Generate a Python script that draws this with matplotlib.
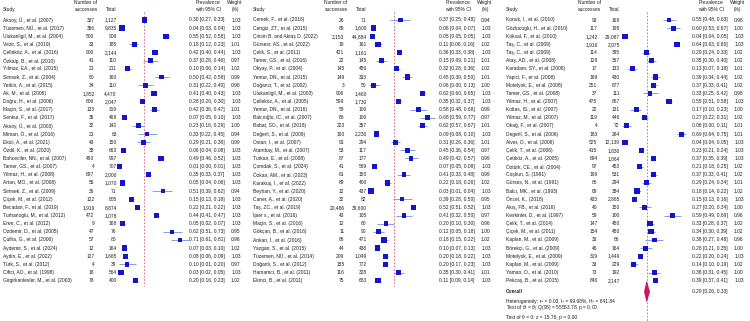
import numpy as np
import matplotlib
matplotlib.use("Agg")
import matplotlib.pyplot as plt

plt.rcParams['font.family'] = ['Liberation Sans', 'DejaVu Sans']
plt.rcParams['mathtext.fontset'] = 'custom'
plt.rcParams['mathtext.rm'] = 'Liberation Sans'
plt.rcParams['mathtext.it'] = 'Liberation Sans:italic'

# ---------------- data ----------------
names1 = ["Aksoy, Ü., et al. (2007)", "Tüzemen, NÜ., et al. (2017)", "Ulukanligil, M., et al. (2004)",
          "Vezir, S., et al. (2019)", "Çelleköz, A., et al. (2016)", "Özkalp, B., et al. (2010)",
          "Yılmaz, EA., et al. (2015)", "Simsek, Z., et al. (2004)", "Yetkin, A., et al. (2015)",
          "Ak, M., et al. (2006)", "Doğru, H., et al. (2006)", "Maçin, S., et al. (2017)",
          "Senkur, F., et al. (2017)", "Aksoy, Ü., et al. (2003)", "Miman, Ö., et al. (2016)",
          "Ekici, A., et al. (2021)", "Özdil, K., et al. (2020)", "Bahceciler, NN., et al. (2007)",
          "Tamer, GS., et al. (2007)", "Yilmaz, H., et al. (2008)", "Artan, MO., et al. (2008)",
          "Simsek, Z., et al. (2009)", "Çiçek, M., et al. (2012)", "Becadan, F., et al. (2019)",
          "Turhanoglu, M., et al. (2012)", "Eren, C., et al. (2012)", "Ozdemir, D., et al. (2005)",
          "Çulha, G., et al. (2006)", "Aydemir, S., et al. (2024)", "Aydin, E., et al. (2022)",
          "Türk, S., et al. (2012)", "Ciftci, AO., et al. (1998)", "Girgirkanlesler, M., et al. (2003)"]
succ1 = [337, 356, 500, 33, 900, 41, 21, 80, 34, 1852, 606, 133, 35, 32, 21, 43, 38, 490, 4, 697, 55,
         36, 122, 1919, 472, 9, 47, 57, 12, 127, 4, 18, 78]
tot1 = [1127, 9835, 909, 185, 2144, 110, 211, 160, 110, 4470, 2047, 319, 468, 142, 63, 150, 663, 997,
        707, 2000, 1070, 71, 805, 8874, 1078, 168, 76, 80, 164, 1665, 39, 564, 400]
est1 = [0.30, 0.04, 0.55, 0.18, 0.42, 0.37, 0.10, 0.50, 0.31, 0.41, 0.28, 0.42, 0.07, 0.23, 0.33, 0.29,
        0.06, 0.49, 0.01, 0.35, 0.05, 0.51, 0.15, 0.22, 0.44, 0.05, 0.62, 0.71, 0.07, 0.08, 0.10, 0.03, 0.20]
lo1 = [0.27, 0.03, 0.52, 0.12, 0.40, 0.28, 0.06, 0.42, 0.22, 0.40, 0.26, 0.36, 0.05, 0.16, 0.22, 0.21,
       0.04, 0.46, 0.00, 0.33, 0.04, 0.39, 0.13, 0.21, 0.41, 0.02, 0.51, 0.61, 0.03, 0.06, 0.01, 0.02, 0.16]
hi1 = [0.33, 0.04, 0.58, 0.23, 0.44, 0.46, 0.14, 0.58, 0.40, 0.43, 0.30, 0.47, 0.10, 0.29, 0.45, 0.36,
       0.08, 0.52, 0.01, 0.37, 0.06, 0.62, 0.18, 0.22, 0.47, 0.07, 0.73, 0.81, 0.10, 0.09, 0.20, 0.05, 0.23]
w1 = [1.03, 1.03, 1.03, 1.01, 1.03, 0.97, 1.02, 0.99, 0.98, 1.03, 1.03, 1.01, 1.03, 1.00, 0.94, 0.99,
      1.03, 1.03, 1.03, 1.03, 1.03, 0.94, 1.03, 1.03, 1.03, 1.03, 0.95, 0.96, 1.02, 1.03, 0.97, 1.03, 1.02]

names2 = ["Cemek, F., et al. (2016)", "Cengiz, ZT., et al. (2015)", "Çirisin B. and Aktaş D. (2022)",
          "Gürsesr, AS., et al. (2022)", "Çelik, S., et al. (2011)", "Tamer, GS., et al. (2016)",
          "Okyay, P., et al. (2004)", "Yentur, DN., et al. (2015)", "Doğanci, T., et al. (2002)",
          "Ulukanligil, M., et al. (2003)", "Çelleköz, A., et al. (2005)", "Yentur, DN., et al. (2016)",
          "Balcıoğlu, IC., et al. (2007)", "Babat, SO., et al. (2018)", "Değerli, S., et al. (2009)",
          "Ostan, I., et al. (2007)", "Atambay, M., et al. (2007)", "Turkan, E., et al. (2008)",
          "Çomdak, S., et al. (2024)", "Özkan, AM., et al. (2023)", "Karakuş, İ., et al. (2022)",
          "Beyhan, Y., et al. (2020)", "Caner, A., et al. (2020)", "Taş, ZC., et al. (2019)",
          "İpier s., et al. (2016)", "Maçin, S., et al. (2016)", "Gökçan, B., et al. (2016)",
          "Ankan, İ., et al. (2016)", "Yazgan, S., et al. (2015)", "Tüzemen, NÜ., et al. (2014)",
          "Doğanlı, S., et al. (2012)", "Hamamcı, B., et al. (2011)", "Ekinci, B., et al. (2011)"]
succ2 = [26, 89, 2153, 18, 421, 22, 145, 149, 3, 906, 599, 58, 68, 223, 190, 91, 53, 87, 41, 61, 89, 12,
         32, 20486, 43, 12, 11, 86, 44, 209, 155, 116, 75]
tot2 = [71, 1600, 44884, 161, 1161, 145, 456, 333, 50, 1460, 1730, 100, 100, 357, 2230, 294, 117, 177,
        569, 150, 400, 437, 82, 39600, 105, 60, 90, 471, 438, 1049, 772, 328, 683]
est2 = [0.37, 0.06, 0.05, 0.11, 0.36, 0.15, 0.32, 0.45, 0.06, 0.62, 0.35, 0.58, 0.68, 0.62, 0.09, 0.31,
        0.45, 0.49, 0.07, 0.41, 0.22, 0.03, 0.39, 0.52, 0.41, 0.20, 0.12, 0.18, 0.10, 0.20, 0.20, 0.35, 0.11]
lo2 = [0.25, 0.04, 0.05, 0.06, 0.33, 0.09, 0.28, 0.39, 0.00, 0.60, 0.32, 0.48, 0.59, 0.57, 0.08, 0.26,
       0.36, 0.42, 0.05, 0.33, 0.18, 0.01, 0.28, 0.51, 0.32, 0.10, 0.05, 0.15, 0.07, 0.18, 0.17, 0.30, 0.09]
hi2 = [0.48, 0.07, 0.05, 0.16, 0.38, 0.21, 0.36, 0.50, 0.13, 0.65, 0.37, 0.68, 0.77, 0.67, 0.10, 0.36,
       0.54, 0.57, 0.09, 0.48, 0.26, 0.04, 0.50, 0.52, 0.50, 0.30, 0.18, 0.22, 0.13, 0.22, 0.23, 0.41, 0.14]
w2 = [0.94, 1.03, 1.03, 1.02, 1.03, 1.01, 1.02, 1.01, 1.00, 1.03, 1.03, 0.99, 0.97, 1.01, 1.03, 1.01,
      0.97, 0.99, 1.03, 0.99, 1.02, 1.03, 0.95, 1.03, 0.97, 0.96, 1.00, 1.02, 1.03, 1.03, 1.03, 1.01, 1.03]

names3 = ["Konuk, I., et al. (2010)", "Gözlucoglu, H., et al. (2010)", "Köksal, F., et al. (2010)",
          "Taş, C., et al. (2009)", "Taş, C., et al. (2009)", "Ataş, AD., et al. (2008)",
          "Karadam, SY., et al. (2008)", "Yapici, F., et al. (2008)", "Motelyok, E., et al. (2008)",
          "Tamer, GS., et al. (2008)", "Yilmaz, H., et al. (2007)", "Koltas, IS., et al. (2007)",
          "Yilmaz, M., et al. (2007)", "Okağ, F., et al. (2007)", "Degerli, S., et al. (2006)",
          "Alver, O., et al. (2006)", "Çelik, T., et al. (2006)", "Çetiköz, A., et al. (2005)",
          "Öztürk, CE., et al. (2004)", "Coşkun, S. (1991)", "Gürses, N., et al. (1991)",
          "Balcı, MK., et al. (1993)", "Öncel, K., (2018)", "Akış, FB., et al. (2016)",
          "Keskinler, D., et al. (1997)", "Çelik, T., et al. (2014)", "Çiçek, M., et al. (2011)",
          "Kaplan, M., et al. (2009)", "Börekçi, G., et al. (2009)", "Motelyok, E., et al. (2009)",
          "Kaplan, M., et al. (2009)", "Yaman, O., et al. (2010)", "Pekcaş, B., et al. (2015)"]
succ3 = [93, 117, 1242, 1916, 114, 128, 17, 169, 251, 37, 475, 22, 119, 4, 183, 525, 415, 694, 97, 196,
         86, 69, 433, 40, 59, 147, 154, 33, 46, 319, 33, 73, 846]
tot3 = [168, 195, 29087, 2975, 395, 367, 133, 430, 677, 111, 867, 131, 446, 72, 264, 12139, 1830, 1864,
        453, 531, 294, 384, 2865, 150, 100, 450, 450, 86, 164, 1449, 229, 192, 2147]
est3 = [0.55, 0.60, 0.04, 0.64, 0.29, 0.35, 0.13, 0.39, 0.37, 0.33, 0.55, 0.17, 0.27, 0.06, 0.69, 0.04,
        0.23, 0.37, 0.21, 0.37, 0.29, 0.18, 0.15, 0.27, 0.59, 0.33, 0.34, 0.38, 0.28, 0.22, 0.14, 0.38, 0.39]
lo3 = [0.48, 0.53, 0.04, 0.63, 0.24, 0.30, 0.07, 0.34, 0.33, 0.25, 0.51, 0.10, 0.22, 0.00, 0.64, 0.04,
       0.21, 0.35, 0.18, 0.33, 0.24, 0.14, 0.13, 0.20, 0.49, 0.28, 0.30, 0.27, 0.21, 0.20, 0.10, 0.31, 0.37]
hi3 = [0.63, 0.67, 0.05, 0.66, 0.33, 0.40, 0.18, 0.44, 0.41, 0.42, 0.58, 0.23, 0.31, 0.11, 0.75, 0.05,
       0.24, 0.39, 0.25, 0.41, 0.34, 0.22, 0.16, 0.34, 0.69, 0.37, 0.39, 0.48, 0.35, 0.24, 0.19, 0.45, 0.41]
w3 = [0.98, 1.00, 1.03, 1.03, 1.02, 1.02, 1.01, 1.02, 1.02, 0.98, 1.03, 1.00, 1.02, 1.01, 1.01, 1.03,
      1.03, 1.03, 1.02, 1.02, 1.01, 1.02, 1.03, 1.00, 0.96, 1.02, 1.02, 0.96, 1.00, 1.03, 1.02, 1.00, 1.03]

overall_est, overall_lo, overall_hi = 0.29, 0.26, 0.33
het_lines = [r"Heterogeneity: τ² = 0.03, I² = 99.68%, H² = 841.84",
             r"Test of $\theta_i$ = $\theta_j$: Q(98) = 55563.78, p = 0.00",
             r"Test of θ = 0: z = 15.76, p = 0.00"]

# ---------------- layout ----------------
FS = 3.5
TXT = '#1e1e1e'
SQ = '#1414c8'
CI = '#6f8fe0'
OVC = '#c8195a'
REF = '#d85a78'

fig = plt.figure(figsize=(7.5, 3.21), dpi=100)
Y0, DY, HPX = 20.0, 8.146, 321.0
X0, SX = 118.5, 86.6


def row_of(py):
    return 1 + (py - Y0) / DY


def X(px):
    return (px - X0) / SX


panels = [(0, 250, names1, succ1, tot1, est1, lo1, hi1, w1),
          (250, 250, names2, succ2, tot2, est2, lo2, hi2, w2),
          (503, 247, names3, succ3, tot3, est3, lo3, hi3, w3)]

for pi, (off, W, nm, sc, tt, es, lo, hi, ww) in enumerate(panels):
    ax = fig.add_axes([off / 750, 0, W / 750, 1])
    ax.set_xlim(X(0), X(W))
    ax.set_ylim(row_of(HPX), row_of(0))
    ax.axis('off')
    n = len(nm)
    rows = np.arange(1, n + 1)

    # header
    kw = dict(fontsize=FS, color=TXT, clip_on=False)
    ax.text(X(2.7), row_of(9.3), "Study", ha='left', va='center', **kw)
    ax.text(X(86), row_of(2.7), "Number of", ha='center', va='center', **kw)
    ax.text(X(86), row_of(9.3), "successes", ha='center', va='center', **kw)
    ax.text(X(111), row_of(9.3), "Total", ha='center', va='center', **kw)
    ax.text(X(208), row_of(2.7), "Prevalence", ha='center', va='center', **kw)
    ax.text(X(208), row_of(9.3), "with 95% CI", ha='center', va='center', **kw)
    ax.text(X(235), row_of(2.7), "Weight", ha='center', va='center', **kw)
    ax.text(X(235), row_of(9.3), "(%)", ha='center', va='center', **kw)

    # reference line
    yend = row_of(HPX) if pi == 2 else row_of(286)
    ax.plot([overall_est, overall_est], [row_of(12), yend], color=REF, lw=0.6,
            ls=(0, (2, 2)), zorder=1)

    # CIs and squares
    ax.hlines(rows, lo, hi, color=CI, lw=0.6, zorder=2)
    side_px = 5.3 - (1.03 - np.array(ww)) * 12
    ax.scatter(es, rows, marker='s', s=(side_px * 0.72) ** 2, color=SQ, linewidths=0, zorder=3)

    for r, a, b, c, e, l, h, w in zip(rows, nm, sc, tt, es, lo, hi, ww):
        ax.text(X(2.7), r, a, ha='left', va='center', **kw)
        ax.text(X(94.5), r, f"{b:,}", ha='right', va='center', **kw)
        ax.text(X(116.7), r, f"{c:,}", ha='right', va='center', **kw)
        ax.text(X(189.3), r, f"{e:.2f} [{l:.2f}, {h:.2f}]", ha='left', va='center', **kw)
        ax.text(X(240.7), r, f"{w:.2f}", ha='right', va='center', **kw)

    if pi == 2:
        rov = row_of(291.7)
        half = 11.0 / DY
        ax.fill([overall_lo, overall_est, overall_hi, overall_est],
                [rov, rov - half, rov, rov + half], color=OVC, lw=0, zorder=4)
        ax.text(X(2.7), rov, "Overall", ha='left', va='center', fontweight='bold', **kw)
        ax.text(X(189.3), rov, f"{overall_est:.2f} [{overall_lo:.2f}, {overall_hi:.2f}]",
                ha='left', va='center', **kw)
        for k, line in enumerate(het_lines):
            ax.text(X(2.7), row_of(301.0 + k * 8.4), line, ha='left', va='center', **kw)

fig.savefig("out.png", dpi=100, facecolor='white')
